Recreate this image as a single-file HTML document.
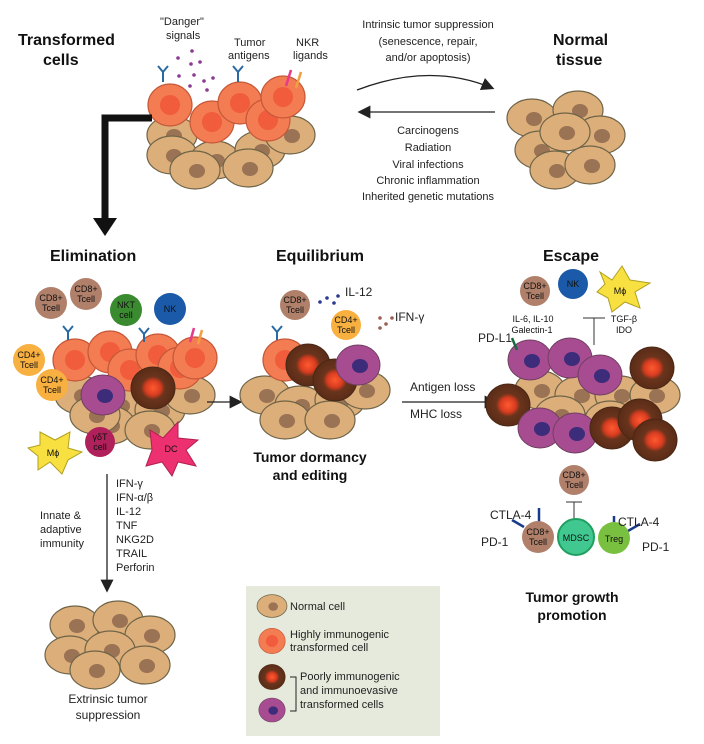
<!DOCTYPE html>
<html><head><meta charset="utf-8"><style>
html,body{margin:0;padding:0;background:#fff;}
svg{display:block;font-family:"Liberation Sans",sans-serif;}
.b{font-weight:bold;font-size:16px;fill:#111}
.t{font-size:12px;fill:#222}
.s{font-size:9px;fill:#111;text-anchor:middle}
</style></head><body>
<svg width="704" height="744" viewBox="0 0 704 744" xmlns="http://www.w3.org/2000/svg">
<defs>
<radialGradient id="rd"><stop offset="0" stop-color="#ff5a30"/><stop offset="0.35" stop-color="#d83c20"/><stop offset="0.55" stop-color="#6a341c"/><stop offset="1" stop-color="#5a2c18"/></radialGradient>
<g id="tan"><ellipse cx="0" cy="0" rx="25" ry="19" fill="#dcae7a" stroke="#6e6448" stroke-width="1.2"/><ellipse cx="2" cy="1" rx="8" ry="7" fill="#9a7254"/></g>
<g id="org"><ellipse cx="0" cy="0" rx="22" ry="21" fill="#f47c52" stroke="#c45838" stroke-width="1.2"/><circle cx="0" cy="0" r="10" fill="#f05c3c"/></g>
<g id="drk"><ellipse cx="0" cy="0" rx="22" ry="21" fill="url(#rd)" stroke="#4a2814"/></g>
<g id="pur"><ellipse cx="0" cy="0" rx="22" ry="20" fill="#a84c92" stroke="#704060"/><ellipse cx="2" cy="1" rx="8" ry="7" fill="#3c2c7a"/></g>
<marker id="ah" markerWidth="10" markerHeight="10" refX="8" refY="5" orient="auto"><path d="M0,0 L10,5 L0,10 z" fill="#222"/></marker>
</defs>

<!-- Top titles -->
<text class="b" x="18" y="45">Transformed</text>
<text class="b" x="43" y="65">cells</text>
<text class="b" x="553" y="45">Normal</text>
<text class="b" x="556" y="65">tissue</text>
<text class="t" x="160" y="25" style="font-size:11px">"Danger"</text>
<text class="t" x="166" y="39" style="font-size:11px">signals</text>
<text class="t" x="234" y="46" style="font-size:11px">Tumor</text>
<text class="t" x="228" y="59" style="font-size:11px">antigens</text>
<text class="t" x="296" y="46" style="font-size:11px">NKR</text>
<text class="t" x="293" y="59" style="font-size:11px">ligands</text>
<g class="t" style="font-size:11px;text-anchor:middle">
<text x="428" y="28">Intrinsic tumor suppression</text>
<text x="428" y="45">(senescence, repair,</text>
<text x="428" y="61">and/or apoptosis)</text>
<text x="428" y="134">Carcinogens</text>
<text x="428" y="151">Radiation</text>
<text x="428" y="168">Viral infections</text>
<text x="428" y="184">Chronic inflammation</text>
<text x="428" y="200">Inherited genetic mutations</text>
</g>
<path d="M357,90 Q430,62 492,88" fill="none" stroke="#222" stroke-width="1.3" marker-end="url(#ah)"/>
<line x1="495" y1="112" x2="360" y2="112" stroke="#222" stroke-width="1.3" marker-end="url(#ah)"/>

<!-- danger dots -->
<g fill="#8a3a90"><circle cx="192" cy="51" r="1.8"/><circle cx="178" cy="58" r="1.8"/><circle cx="191" cy="64" r="1.8"/><circle cx="200" cy="62" r="1.8"/><circle cx="179" cy="76" r="1.8"/><circle cx="194" cy="75" r="1.8"/><circle cx="204" cy="81" r="1.8"/><circle cx="213" cy="78" r="1.8"/><circle cx="190" cy="86" r="1.8"/><circle cx="207" cy="90" r="1.8"/></g>

<!-- top-left tumor cluster -->
<use href="#tan" x="172" y="135"/><use href="#tan" x="172" y="155"/><use href="#tan" x="215" y="160"/><use href="#tan" x="260" y="150"/><use href="#tan" x="290" y="135"/><use href="#tan" x="248" y="168"/><use href="#tan" x="195" y="170"/>
<use href="#org" x="170" y="105"/><use href="#org" x="212" y="122"/><use href="#org" x="240" y="103"/><use href="#org" x="268" y="120"/><use href="#org" x="283" y="97"/>
<g stroke="#2a6aa0" stroke-width="2" fill="none"><path d="M163,82 L163,72 M158,66 L163,72 L168,66"/><path d="M238,82 L238,72 M233,66 L238,72 L243,66"/></g>
<line x1="286" y1="86" x2="291" y2="70" stroke="#e83a8a" stroke-width="2.5"/><line x1="296" y1="88" x2="301" y2="72" stroke="#f0a040" stroke-width="2.5"/>

<!-- normal tissue -->
<use href="#tan" x="532" y="118"/><use href="#tan" x="578" y="110"/><use href="#tan" x="540" y="150"/><use href="#tan" x="600" y="135"/><use href="#tan" x="555" y="170"/><use href="#tan" x="590" y="165"/><use href="#tan" x="565" y="132"/>

<!-- big arrow -->
<path d="M152,118 L105,118 L105,222" fill="none" stroke="#111" stroke-width="7"/>
<path d="M93,218 L117,218 L105,236 z" fill="#111"/>

<!-- Section titles -->
<text class="b" x="50" y="261">Elimination</text>
<text class="b" x="276" y="261">Equilibrium</text>
<text class="b" x="543" y="261">Escape</text>

<!-- Elimination cluster -->
<use href="#tan" x="80" y="395"/><use href="#tan" x="120" y="405"/><use href="#tan" x="160" y="410"/><use href="#tan" x="190" y="395"/><use href="#tan" x="110" y="425"/><use href="#tan" x="150" y="430"/><use href="#tan" x="95" y="415"/>
<use href="#org" x="75" y="360"/><use href="#org" x="110" y="352"/><use href="#org" x="130" y="370"/><use href="#org" x="158" y="355"/><use href="#org" x="180" y="368"/><use href="#org" x="195" y="358"/>
<use href="#pur" x="103" y="395"/><use href="#drk" x="153" y="388"/>
<g stroke="#2a6aa0" stroke-width="2" fill="none"><path d="M68,340 L68,332 M63,326 L68,332 L73,326"/><path d="M144,342 L144,334 M139,328 L144,334 L149,328"/></g>
<line x1="190" y1="342" x2="194" y2="328" stroke="#e83a8a" stroke-width="2.5"/><line x1="198" y1="344" x2="202" y2="330" stroke="#f0a040" stroke-width="2.5"/>
<circle cx="51" cy="303" r="16" fill="#b0806a"/><text class="s" x="51" y="301">CD8+</text><text class="s" x="51" y="311">Tcell</text>
<circle cx="86" cy="294" r="16" fill="#b0806a"/><text class="s" x="86" y="292">CD8+</text><text class="s" x="86" y="302">Tcell</text>
<circle cx="126" cy="310" r="16" fill="#3a8a30"/><text class="s" x="126" y="308">NKT</text><text class="s" x="126" y="318">cell</text>
<circle cx="170" cy="309" r="16" fill="#1a5aa8"/><text class="s" x="170" y="312">NK</text>
<circle cx="29" cy="360" r="16" fill="#f8b040"/><text class="s" x="29" y="358">CD4+</text><text class="s" x="29" y="368">Tcell</text>
<circle cx="52" cy="385" r="16" fill="#f8b040"/><text class="s" x="52" y="383">CD4+</text><text class="s" x="52" y="393">Tcell</text>
<path d="M40,432 L55,440 L70,432 L68,448 L82,452 L68,460 L62,474 L50,462 L38,470 L38,456 L28,448 L40,445 z" fill="#f8e040" stroke="#b0a020"/><text class="s" x="53" y="456">Mϕ</text>
<circle cx="100" cy="442" r="15" fill="#b0205a"/><text class="s" x="100" y="440">γδT</text><text class="s" x="100" y="450">cell</text>
<path d="M150,430 L163,438 L178,422 L178,438 L198,440 L186,450 L196,466 L178,462 L172,476 L162,462 L146,466 L152,450 z" fill="#ec3070" stroke="#b02050"/><text class="s" x="171" y="452">DC</text>
<line x1="207" y1="402" x2="240" y2="402" stroke="#222" stroke-width="1.3" marker-end="url(#ah)"/>

<!-- down arrow & labels -->
<line x1="107" y1="474" x2="107" y2="590" stroke="#222" stroke-width="1.3" marker-end="url(#ah)"/>
<g class="t" style="font-size:11px">
<text x="116" y="487">IFN-γ</text><text x="116" y="501">IFN-α/β</text><text x="116" y="515">IL-12</text><text x="116" y="529">TNF</text><text x="116" y="543">NKG2D</text><text x="116" y="557">TRAIL</text><text x="116" y="571">Perforin</text>
<text x="40" y="519">Innate &amp;</text><text x="40" y="533">adaptive</text><text x="40" y="547">immunity</text>
</g>
<use href="#tan" x="75" y="625"/><use href="#tan" x="118" y="620"/><use href="#tan" x="150" y="635"/><use href="#tan" x="70" y="655"/><use href="#tan" x="110" y="650"/><use href="#tan" x="145" y="665"/><use href="#tan" x="95" y="670"/>
<text class="t" x="108" y="703" style="text-anchor:middle">Extrinsic tumor</text>
<text class="t" x="108" y="719" style="text-anchor:middle">suppression</text>

<!-- Equilibrium -->
<use href="#tan" x="265" y="395"/><use href="#tan" x="300" y="405"/><use href="#tan" x="340" y="400"/><use href="#tan" x="365" y="390"/><use href="#tan" x="285" y="420"/><use href="#tan" x="330" y="420"/>
<use href="#org" x="285" y="360"/><use href="#drk" x="308" y="365"/><use href="#drk" x="335" y="380"/><use href="#pur" x="358" y="365"/>
<g stroke="#2a6aa0" stroke-width="2" fill="none"><path d="M277,340 L277,332 M272,326 L277,332 L282,326"/></g>
<circle cx="295" cy="305" r="15" fill="#b0806a"/><text class="s" x="295" y="303">CD8+</text><text class="s" x="295" y="313">Tcell</text>
<circle cx="346" cy="325" r="15" fill="#f8b040"/><text class="s" x="346" y="323">CD4+</text><text class="s" x="346" y="333">Tcell</text>
<g fill="#2a3a90"><circle cx="320" cy="302" r="1.8"/><circle cx="327" cy="298" r="1.8"/><circle cx="334" cy="303" r="1.8"/><circle cx="338" cy="296" r="1.8"/></g>
<g fill="#9a6050"><circle cx="380" cy="318" r="1.8"/><circle cx="386" cy="324" r="1.8"/><circle cx="392" cy="318" r="1.8"/><circle cx="380" cy="328" r="1.8"/></g>
<text class="t" x="345" y="296">IL-12</text><text class="t" x="395" y="321">IFN-γ</text>
<text class="b" x="310" y="462" style="text-anchor:middle;font-size:14px">Tumor dormancy</text>
<text class="b" x="310" y="480" style="text-anchor:middle;font-size:14px">and editing</text>
<line x1="402" y1="402" x2="495" y2="402" stroke="#222" stroke-width="1.3" marker-end="url(#ah)"/>
<text class="t" x="410" y="391">Antigen loss</text><text class="t" x="410" y="418">MHC loss</text>

<!-- Escape -->
<use href="#tan" x="540" y="390"/><use href="#tan" x="580" y="395"/><use href="#tan" x="620" y="395"/><use href="#tan" x="655" y="395"/><use href="#tan" x="560" y="415"/><use href="#tan" x="610" y="420"/>
<use href="#pur" x="530" y="360"/><use href="#pur" x="570" y="358"/><use href="#pur" x="600" y="375"/><use href="#drk" x="652" y="368"/><use href="#drk" x="508" y="405"/>
<use href="#pur" x="540" y="428"/><use href="#pur" x="575" y="433"/><use href="#drk" x="612" y="428"/><use href="#drk" x="640" y="420"/><use href="#drk" x="655" y="440"/>
<line x1="512" y1="338" x2="517" y2="350" stroke="#1a6a40" stroke-width="2.5"/>
<text class="t" x="478" y="342">PD-L1</text>
<circle cx="535" cy="291" r="15" fill="#b0806a"/><text class="s" x="535" y="289">CD8+</text><text class="s" x="535" y="299">Tcell</text>
<circle cx="573" cy="284" r="15" fill="#1a5aa8"/><text class="s" x="573" y="287">NK</text>
<path d="M600,272 L612,280 L622,266 L630,280 L650,283 L635,292 L640,308 L625,302 L612,312 L608,298 L597,292 L605,284 z" fill="#f8e040" stroke="#b0a020"/><text class="s" x="620" y="294">Mϕ</text>
<text class="s" x="533" y="322">IL-6, IL-10</text><text class="s" x="532" y="333">Galectin-1</text>
<text class="s" x="624" y="322">TGF-β</text><text class="s" x="624" y="333">IDO</text>
<line x1="583" y1="318" x2="605" y2="318" stroke="#333"/><line x1="594" y1="318" x2="594" y2="345" stroke="#333"/>
<circle cx="574" cy="480" r="15" fill="#b0806a"/><text class="s" x="574" y="478">CD8+</text><text class="s" x="574" y="488">Tcell</text>
<line x1="566" y1="502" x2="582" y2="502" stroke="#333"/><line x1="574" y1="502" x2="574" y2="530" stroke="#333"/>
<g stroke="#1a3a8a" stroke-width="2.5"><line x1="539" y1="523" x2="539" y2="508"/><line x1="524" y1="527" x2="512" y2="520"/><line x1="614" y1="516" x2="614" y2="530"/><line x1="628" y1="531" x2="640" y2="524"/></g>
<circle cx="538" cy="537" r="16" fill="#b0806a"/><text class="s" x="538" y="535">CD8+</text><text class="s" x="538" y="545">Tcell</text>
<circle cx="576" cy="537" r="18" fill="#40c890" stroke="#20a060" stroke-width="2"/><text class="s" x="576" y="541">MDSC</text>
<circle cx="614" cy="538" r="16" fill="#7ac040"/><text class="s" x="614" y="542">Treg</text>
<text class="t" x="490" y="519">CTLA-4</text><text class="t" x="481" y="546">PD-1</text>
<text class="t" x="618" y="526">CTLA-4</text><text class="t" x="642" y="551">PD-1</text>
<text class="b" x="572" y="602" style="text-anchor:middle;font-size:14px">Tumor growth</text>
<text class="b" x="572" y="620" style="text-anchor:middle;font-size:14px">promotion</text>

<!-- Legend -->
<rect x="246" y="586" width="194" height="150" fill="#e6eadc"/>
<g transform="translate(272,606) scale(0.6)"><use href="#tan"/></g>
<text class="t" x="290" y="610" style="font-size:11px">Normal cell</text>
<g transform="translate(272,641) scale(0.6)"><use href="#org"/></g>
<text class="t" x="290" y="638" style="font-size:11px">Highly immunogenic</text>
<text class="t" x="290" y="651" style="font-size:11px">transformed cell</text>
<g transform="translate(272,677) scale(0.6)"><use href="#drk"/></g>
<g transform="translate(272,710) scale(0.6)"><use href="#pur"/></g>
<path d="M290,677 L296,677 L296,711 L290,711" fill="none" stroke="#222"/>
<text class="t" x="300" y="680" style="font-size:11px">Poorly immunogenic</text>
<text class="t" x="300" y="694" style="font-size:11px">and immunoevasive</text>
<text class="t" x="300" y="708" style="font-size:11px">transformed cells</text>
</svg>
</body></html>
